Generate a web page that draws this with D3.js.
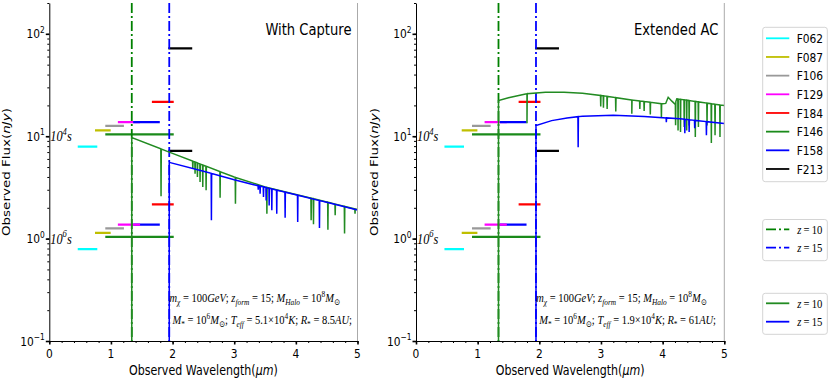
<!DOCTYPE html>
<html>
<head>
<meta charset="utf-8">
<script src="https://cdn.jsdelivr.net/npm/d3@7"></script>
<style>
body { margin: 0; background: #fff; }
svg { display: block; }
</style>
</head>
<body>
<svg id="chart" width="830" height="382"></svg>
<script>
// Lyman-alpha break for z=10 and z=15 (micron)
var lyaWave = [1.338, 1.946];
var lyaColors = ["green", "blue"];
var lyaLabels = ["10", "15"];

// Roman filters
var filterNames = ["F062", "F087", "F106", "F129", "F184", "F146", "F158", "F213"];
var filterColors = ["#00ffff", "#bfbf00", "#999999", "#ff00ff", "#ff0000", "#1a8a1a", "#0000ff", "#000000"];
var filterLo = [0.48, 0.76, 0.927, 1.131, 1.683, 0.927, 1.38, 1.95];
var filterHi = [0.76, 0.977, 1.192, 1.454, 2.0, 2.0, 1.774, 2.3];
var flux1e4s = [7.9, 11.4, 12.6, 13.7, 21.6, 10.4, 13.7, 72];
var flux1e6s = [0.79, 1.14, 1.26, 1.37, 2.16, 1.04, 1.37, 7.2];

// "With Capture" spectra (continuum + absorption line minima), nJy
var capZ10 = [[1.338, 9.7], [1.946, 7.0], [2.5, 5.2], [3.0, 4.0], [3.5, 3.2], [4.0, 2.7], [4.5, 2.28], [5.0, 1.92]];
var capZ10Lines = [[1.813, 2.59], [2.328, 4.8], [2.365, 4.3], [2.403, 4.0], [2.446, 3.57], [2.49, 3.19], [2.544, 2.96],
  [2.771, 2.51], [3.02, 2.19], [3.53, 1.75], [4.248, 1.51], [4.286, 1.38], [4.52, 1.22], [4.638, 1.69], [4.79, 1.12], [4.96, 1.75]];
var capZ15 = [[1.946, 5.55], [2.5, 4.55], [3.0, 3.75], [3.3, 3.38], [3.5, 3.17], [4.0, 2.68], [4.5, 2.26], [5.0, 1.9]];
var capZ15Lines = [[2.63, 1.51], [3.39, 3.0], [3.42, 2.75], [3.475, 2.55], [3.518, 2.36], [3.567, 2.11], [3.61, 1.89],
  [3.69, 1.75], [3.826, 1.6], [4.03, 1.45], [4.383, 1.27]];

// "Extended AC" spectra
var extZ10 = [[1.338, 22.3], [1.5, 23.8], [1.8, 26.0], [2.1, 26.9], [2.4, 26.9], [2.7, 26.3], [3.0, 25.0], [3.5, 22.6],
  [4.0, 20.7], [4.05, 20.9], [4.09, 24.0], [4.15, 22.0], [4.2, 20.6], [4.23, 23.2], [4.5, 22.0], [5.0, 19.9]];
var extZ10Lines = [[1.80, 13.4], [2.996, 19.5], [3.04, 19.0], [3.1, 18.4], [3.24, 17.4], [3.5, 16.6], [3.63, 18.5], [3.7, 17.6],
  [3.8, 16.3], [3.98, 15.1], [4.21, 12.8], [4.25, 11.4], [4.29, 11.0], [4.35, 12.3], [4.39, 11.4], [4.43, 12.7], [4.53, 9.8],
  [4.58, 12.3], [4.72, 12.7], [4.79, 8.6], [4.85, 10.2], [4.93, 9.8]];
var extZ15 = [[1.946, 12.7], [2.2, 14.2], [2.45, 15.1], [2.7, 15.7], [3.2, 16.0], [3.7, 15.6], [4.28, 14.8], [5.0, 13.3]];
var extZ15Lines = [[2.63, 7.8], [4.06, 13.7], [4.36, 10.7], [4.43, 11.0], [4.52, 12.0], [4.71, 10.2]];

var panels = [
  { x0: 49.3, x1: 357.5, title: "With Capture", z10: capZ10, z10Lines: capZ10Lines, z15: capZ15, z15Lines: capZ15Lines,
    teff: "5.1", rstar: "8.5", ylabX: 10 },
  { x0: 416, x1: 724.3, title: "Extended AC", z10: extZ10, z10Lines: extZ10Lines, z15: extZ15, z15Lines: extZ15Lines,
    teff: "1.9", rstar: "61", ylabX: 378 }
];

var TOP = 3, BOTTOM = 341;
var SQ = 0.82;   // the original figure is squeezed horizontally
var SANS = "DejaVu Sans, sans-serif";
var SERIF = "Liberation Serif, DejaVu Serif, serif";
var specGreen = "#228b22";

var svg = d3.select("#chart");

// text with sub/superscripts, parts = [[string, kind]]
function richText(g, x, y, parts, o) {
  var size = o.size;
  var tf = "translate(" + x + "," + y + ")" +
    (o.rotate ? " rotate(-90) scale(1," + SQ + ")" : " scale(" + SQ + ",1)");
  var t = g.append("text")
    .attr("transform", tf)
    .attr("font-family", o.family)
    .attr("font-size", size)
    .attr("text-anchor", o.anchor || "start")
    .attr("fill", "#000");
  var cur = 0;
  parts.forEach(function(p) {
    var kind = p[1] || "";
    var s = t.append("tspan").text(p[0]);
    var off = kind.indexOf("sub") >= 0 ? size * 0.25 : (kind.indexOf("sup") >= 0 ? -size * 0.42 : 0);
    if (off !== cur) { s.attr("dy", off - cur); cur = off; }
    if (off !== 0) s.attr("font-size", size * 0.7);
    if (kind.indexOf("i") >= 0) s.attr("font-style", "italic");
  });
  return t;
}

// continuum + narrow absorption dips, starting from zero flux below Ly-alpha
function spectrumPoints(cont, lines) {
  var cs = d3.scaleLinear()
    .domain(cont.map(function(d) { return d[0]; }))
    .range(cont.map(function(d) { return Math.log10(d[1]); }));
  var pts = cont.map(function(d) { return [d[0], d[1]]; });
  var w = 0.004;
  lines.forEach(function(l) {
    pts.push([l[0] - w, Math.pow(10, cs(l[0] - w))]);
    pts.push([l[0], l[1]]);
    pts.push([l[0] + w, Math.pow(10, cs(l[0] + w))]);
  });
  pts.sort(function(a, b) { return a[0] - b[0]; });
  pts.unshift([cont[0][0], 0.01]);
  return pts;
}

panels.forEach(function(p, pi) {
  var x = d3.scaleLinear().domain([0, 5]).range([p.x0, p.x1]);
  var y = d3.scaleLog().domain([0.1, 200]).range([BOTTOM, TOP]);
  var g = svg.append("g");

  var clipId = "clip" + pi;
  svg.append("clipPath").attr("id", clipId).append("rect")
    .attr("x", p.x0).attr("y", TOP).attr("width", p.x1 - p.x0).attr("height", BOTTOM - TOP);
  var plot = g.append("g").attr("clip-path", "url(#" + clipId + ")");

  // filter sensitivity bars
  var levels = [
    { flux: flux1e4s, order: [0, 1, 2, 3, 4, 5, 6, 7] },
    { flux: flux1e6s, order: [0, 1, 2, 4, 5, 6, 3, 7] }
  ];
  levels.forEach(function(lv) {
    lv.order.forEach(function(i) {
      plot.append("line")
        .attr("x1", x(filterLo[i])).attr("x2", x(filterHi[i]))
        .attr("y1", y(lv.flux[i])).attr("y2", y(lv.flux[i]))
        .attr("stroke", filterColors[i])
        .attr("stroke-width", 2.3)
        .attr("stroke-linecap", "square");
    });
  });

  // Ly-alpha dash-dot markers
  lyaWave.forEach(function(w, i) {
    plot.append("line")
      .attr("x1", x(w)).attr("x2", x(w))
      .attr("y1", TOP).attr("y2", BOTTOM)
      .attr("stroke", lyaColors[i])
      .attr("stroke-width", 1.8)
      .attr("stroke-dasharray", "10,3,2,3");
  });

  // spectra
  var line = d3.line().x(function(d) { return x(d[0]); }).y(function(d) { return y(d[1]); });
  plot.append("path")
    .attr("d", line(spectrumPoints(p.z10, p.z10Lines)))
    .attr("fill", "none").attr("stroke", specGreen).attr("stroke-width", 1.5);
  plot.append("path")
    .attr("d", line(spectrumPoints(p.z15, p.z15Lines)))
    .attr("fill", "none").attr("stroke", "blue").attr("stroke-width", 1.5);

  // axes
  var xa = g.append("g").attr("transform", "translate(0," + BOTTOM + ")")
    .call(d3.axisBottom(x).tickValues([0, 1, 2, 3, 4, 5]).tickSize(3.5).tickSizeOuter(0).tickFormat(""));
  xa.selectAll(".tick line").attr("stroke-width", 1.6);
  var xm = g.append("g").attr("transform", "translate(0," + BOTTOM + ")")
    .call(d3.axisBottom(x).tickValues(x.ticks(25)).tickSize(2).tickFormat(""));
  xm.select(".domain").remove();

  var ya = g.append("g").attr("transform", "translate(" + p.x0 + ",0)")
    .call(d3.axisLeft(y).tickValues([0.1, 1, 10, 100]).tickSize(3.5).tickSizeOuter(0).tickFormat(""));
  ya.selectAll(".tick line").attr("stroke-width", 1.6);
  var ym = g.append("g").attr("transform", "translate(" + p.x0 + ",0)")
    .call(d3.axisLeft(y).tickValues(y.ticks()).tickSize(2).tickFormat(""));
  ym.select(".domain").remove();

  g.append("line")
    .attr("x1", p.x1).attr("x2", p.x1).attr("y1", TOP).attr("y2", BOTTOM)
    .attr("stroke", "#aaaaaa").attr("stroke-width", 1);

  // tick labels
  [0, 1, 2, 3, 4, 5].forEach(function(v) {
    richText(g, x(v), BOTTOM + 16.5, [[String(v), ""]], { size: 13, family: SANS, anchor: "middle" });
  });
  [[0.1, "\u22121"], [1, "0"], [10, "1"], [100, "2"]].forEach(function(t) {
    richText(g, p.x0 - 4.5, y(t[0]) + 4.5, [["10", ""], [t[1], "sup"]], { size: 13, family: SANS, anchor: "end" });
  });

  // axis titles
  richText(g, (p.x0 + p.x1) / 2, 375, [["Observed Wavelength(", ""], ["\u03bcm", "i"], [")", ""]],
    { size: 13.5, family: SANS, anchor: "middle" });
  richText(g, p.ylabX, (TOP + BOTTOM) / 2, [["Observed Flux(", ""], ["nJy", "i"], [")", ""]],
    { size: 13.5, family: SANS, anchor: "middle", rotate: true });

  // panel title
  richText(g, p.x1 - 6, 35, [[p.title, ""]], { size: 16, family: SANS, anchor: "end" });

  // exposure labels
  richText(g, p.x0 + 1, y(10) + 5, [["10", "i"], ["4", "sup i"], ["s", "i"]], { size: 15, family: SERIF });
  richText(g, p.x0 + 1, y(1) + 5, [["10", "i"], ["6", "sup i"], ["s", "i"]], { size: 15, family: SERIF });

  // parameters
  var ax = x(1.95);
  richText(g, ax, 302, [["m", "i"], ["\u03c7", "sub i"], [" = 100", ""], ["GeV", "i"], ["; ", ""], ["z", "i"], ["form", "sub i"],
    [" = 15; ", ""], ["M", "i"], ["Halo", "sub i"], [" = 10", ""], ["8", "sup"], ["M", "i"], ["\u2299", "sub"]],
    { size: 12.8, family: SERIF });
  richText(g, ax + 3, 324, [["M", "i"], ["*", "sub"], [" = 10", ""], ["6", "sup"], ["M", "i"], ["\u2299", "sub"], ["; ", ""],
    ["T", "i"], ["eff", "sub i"], [" = " + p.teff + "\u00d710", ""], ["4", "sup"], ["K", "i"], ["; ", ""],
    ["R", "i"], ["*", "sub"], [" = " + p.rstar, ""], ["AU", "i"], [";", ""]],
    { size: 12.8, family: SERIF });
});

// legends
function legendBox(y0, h) {
  svg.append("rect")
    .attr("x", 762.7).attr("y", y0).attr("width", 64.6).attr("height", h)
    .attr("rx", 2.5).attr("fill", "#fff").attr("stroke", "#d4d4d4").attr("stroke-width", 1);
}

legendBox(27.3, 154.4);
filterNames.forEach(function(n, i) {
  var ly = 38.3 + i * 18.67;
  svg.append("line").attr("x1", 766).attr("x2", 789.3).attr("y1", ly).attr("y2", ly)
    .attr("stroke", filterColors[i]).attr("stroke-width", 1.8);
  richText(svg, 796.7, ly + 4.6, [[n, ""]], { size: 13, family: SANS });
});

legendBox(219.5, 41.2);
lyaWave.forEach(function(w, i) {
  var ly = 229.3 + i * 18.4;
  svg.append("line").attr("x1", 766).attr("x2", 789.3).attr("y1", ly).attr("y2", ly)
    .attr("stroke", lyaColors[i]).attr("stroke-width", 1.8).attr("stroke-dasharray", "10,3,2,3");
  richText(svg, 797.3, ly + 4.6, [["z", "i"], ["\u2009=\u2009" + lyaLabels[i], ""]], { size: 13, family: SERIF });
});

legendBox(293.3, 41);
[specGreen, "blue"].forEach(function(c, i) {
  var ly = 303.3 + i * 18.4;
  svg.append("line").attr("x1", 766).attr("x2", 789.3).attr("y1", ly).attr("y2", ly)
    .attr("stroke", c).attr("stroke-width", 1.8);
  richText(svg, 797.3, ly + 4.6, [["z", "i"], ["\u2009=\u2009" + lyaLabels[i], ""]], { size: 13, family: SERIF });
});
</script>
</body>
</html>
